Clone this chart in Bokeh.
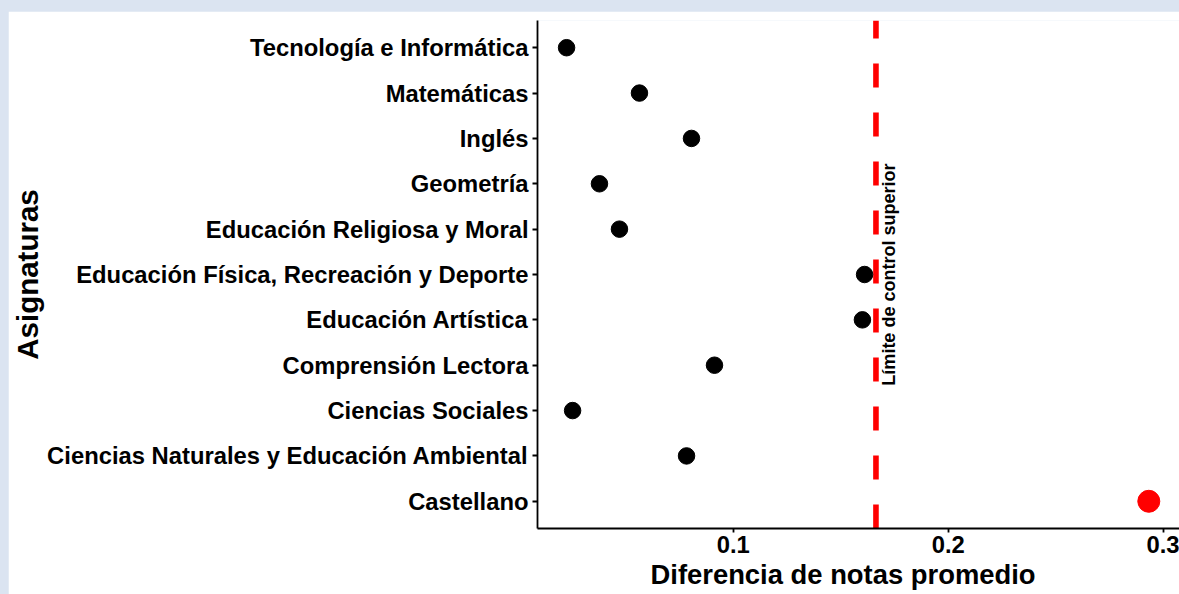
from bokeh.plotting import figure
from bokeh.models import ColumnDataSource, FixedTicker, Label, Range1d, Title
from bokeh.layouts import column
from bokeh.embed import file_html
from bokeh.resources import INLINE
import math

# ---- data (top to bottom as shown) ----
subjects = [
    "Tecnología e Informática",
    "Matemáticas",
    "Inglés",
    "Geometría",
    "Educación Religiosa y Moral",
    "Educación Física, Recreación y Deporte",
    "Educación Artística",
    "Comprensión Lectora",
    "Ciencias Sociales",
    "Ciencias Naturales y Educación Ambiental",
    "Castellano",
]
diff_values = [0.0225, 0.0564, 0.0806, 0.0378, 0.0471, 0.1611, 0.1601, 0.0913, 0.0253, 0.0783, 0.2933]
upper_limit = 0.1664
x_ticks = [0.1, 0.2, 0.3]
x_tick_labels = ["0.1", "0.2", "0.3"]
x_title = "Diferencia de notas promedio"
y_title = "Asignaturas"
limit_label = "Límite de control superior"

FONT = "Liberation Sans"

n = len(subjects)
ypos = [n - i for i in range(n)]
colors = ["#FF0000" if v > upper_limit else "#000000" for v in diff_values]
sizes = [22 if v > upper_limit else 16.5 for v in diff_values]

source = ColumnDataSource(dict(x=diff_values, y=ypos, color=colors, size=sizes, name=subjects))

p = figure(
    width=1171, height=583,
    output_backend="svg", toolbar_location=None,
    x_range=Range1d(0.00898, 0.30758),
    y_range=Range1d(0.4, n + 0.6),
    min_border_left=529, min_border_right=0,
    min_border_top=9, min_border_bottom=66,
)
p.margin = (11, 0, 0, 8)
p.background_fill_color = "white"
p.border_fill_color = "white"
p.outline_line_color = None
p.xgrid.visible = False
p.ygrid.visible = False

# control limit line, dash pattern starting at bottom
p.segment(x0=[upper_limit], y0=[0.4], x1=[upper_limit], y1=[n + 0.6],
          line_color="#FF0000", line_width=5.6, line_dash="24 25", line_cap="butt")

p.scatter(x="x", y="y", size="size", fill_color="color", line_color="color", source=source)

# axes styling
for ax in (p.xaxis[0], p.yaxis[0]):
    ax.axis_line_color = "black"
    ax.axis_line_width = 1.8
    ax.major_tick_line_color = "black"
    ax.major_tick_line_width = 1.8
    ax.minor_tick_line_color = None
    ax.major_tick_in = 0
    ax.major_label_text_font = FONT
    ax.major_label_text_font_style = "bold"
    ax.major_label_text_color = "black"
    ax.major_label_text_font_size = "23.8px"

p.xaxis[0].ticker = FixedTicker(ticks=x_ticks)
p.xaxis[0].major_label_overrides = {t: l for t, l in zip(x_ticks, x_tick_labels)}
p.xaxis[0].major_tick_out = 4
p.xaxis[0].major_label_standoff = 3

p.yaxis[0].ticker = FixedTicker(ticks=ypos)
p.yaxis[0].major_label_overrides = {y: s for y, s in zip(ypos, subjects)}
p.yaxis[0].major_tick_out = 5
p.yaxis[0].major_label_standoff = 4
p.yaxis[0].axis_label = y_title
p.yaxis[0].axis_label_text_font = FONT
p.yaxis[0].axis_label_text_font_style = "bold"
p.yaxis[0].axis_label_text_font_size = "29.5px"
p.yaxis[0].axis_label_text_color = "black"
p.yaxis[0].axis_label_standoff = 0

# x title below the axis
p.add_layout(Title(text=x_title, align="left", offset=113, standoff=3,
                   text_font=FONT, text_font_style="bold", text_font_size="27.4px",
                   text_color="black"), "below")

# rotated annotation next to the limit line
p.add_layout(Label(x=0.1725, y=3.55, text=limit_label, angle=math.pi / 2,
                   text_font=FONT, text_font_style="bold", text_font_size="18px",
                   text_align="left", text_baseline="alphabetic", text_color="black"))

layout = column(p, styles={"background-color": "#DBE4F1"})

open("out.html", "w").write(file_html(layout, INLINE))
